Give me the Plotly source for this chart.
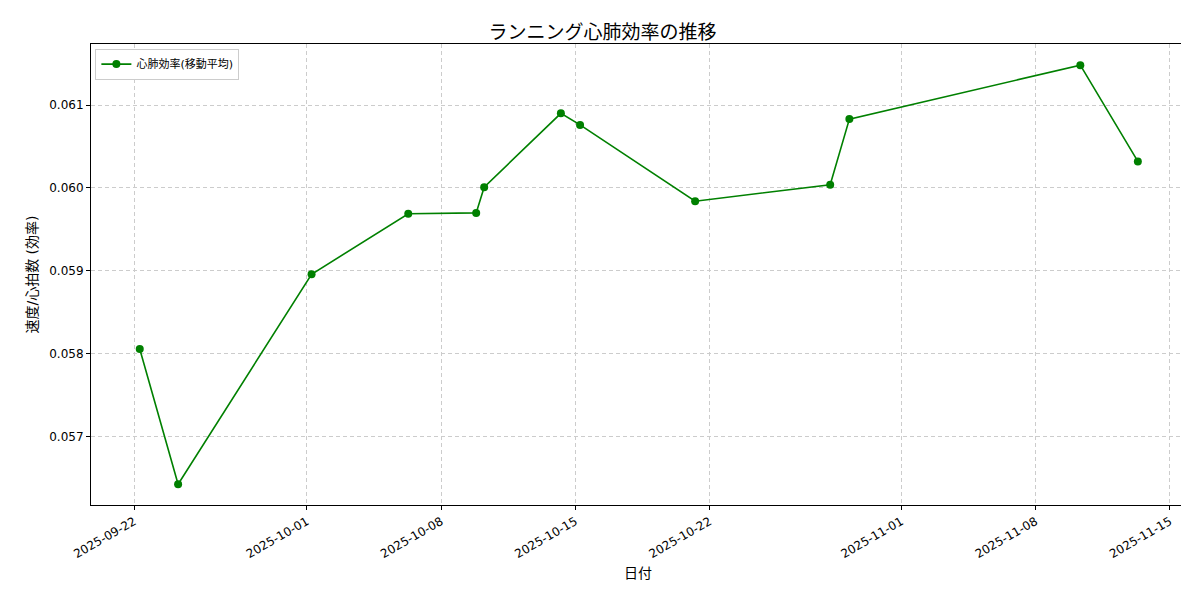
import plotly.graph_objects as go

dates = ["2025-09-22 07:00","2025-09-24 07:00","2025-10-01 06:00","2025-10-06 07:00",
         "2025-10-09 20:00","2025-10-10 06:00","2025-10-14 06:00","2025-10-15 06:00",
         "2025-10-21 06:00","2025-10-28 07:00","2025-10-29 07:00","2025-11-10 08:00",
         "2025-11-13 08:00"]
eff = [0.05806,0.05643,0.05896,0.05969,0.05970,0.06001,0.06090,0.06076,
       0.05984,0.06004,0.06083,0.06148,0.06032]
xticks = ["2025-09-22","2025-10-01","2025-10-08","2025-10-15","2025-10-22",
          "2025-11-01","2025-11-08","2025-11-15"]
yticks = [0.057,0.058,0.059,0.060,0.061]

font = "DejaVu Sans, Noto Sans CJK JP"
fig = go.Figure(go.Scatter(x=dates, y=eff, mode="lines+markers", name="心肺効率(移動平均)",
    line=dict(color="green", width=1.6), marker=dict(color="green", size=8)))
axcommon = dict(showline=True, mirror=True, linecolor="black", linewidth=1,
    ticks="outside", ticklen=4, tickcolor="black", showgrid=True, gridcolor="#cccccc",
    griddash="4px,3px", gridwidth=0.8, zeroline=False, automargin=False,
    tickfont=dict(size=12, color="black"))
fig.update_xaxes(**axcommon, type="date", range=["2025-09-19 18:00","2025-11-15 19:00"],
    tickvals=xticks, ticktext=xticks, tickangle=-30,
    title=dict(text="日付", font=dict(size=14, color="black"), standoff=8))
fig.update_yaxes(**axcommon, range=[0.05618,0.061735], tickvals=yticks,
    ticktext=[f"{v:.3f}" for v in yticks],
    title=dict(text="速度/心拍数 (効率)", font=dict(size=14, color="black"), standoff=8))
fig.update_layout(width=1189, height=590, plot_bgcolor="white", paper_bgcolor="white",
    margin=dict(l=83, r=12, t=36, b=93), font=dict(family=font),
    title=dict(text="ランニング心肺効率の推移", x=0.5, xanchor="center", y=0.97,
               font=dict(size=19, color="black")),
    showlegend=True,
    legend=dict(x=0.004, y=0.99, xanchor="left", yanchor="top", bgcolor="white",
                bordercolor="#cccccc", borderwidth=1, font=dict(size=11, color="black")))
fig.write_html("out.html")
